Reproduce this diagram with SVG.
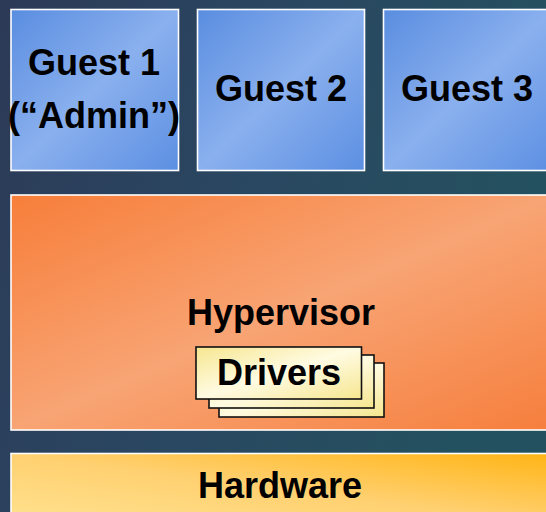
<svg xmlns="http://www.w3.org/2000/svg" width="546" height="512" viewBox="0 0 546 512">
<defs>
<linearGradient id="bg" x1="0" y1="0" x2="1" y2="0.3">
<stop offset="0" stop-color="#2c3a57"/>
<stop offset="0.5" stop-color="#2a4761"/>
<stop offset="1" stop-color="#24515f"/>
</linearGradient>
<linearGradient id="guest" x1="0" y1="0" x2="1" y2="1">
<stop offset="0" stop-color="#5a8de0"/>
<stop offset="0.5" stop-color="#8ab0ee"/>
<stop offset="1" stop-color="#5c8fe2"/>
</linearGradient>
<linearGradient id="hyp" x1="0" y1="0" x2="1" y2="1">
<stop offset="0" stop-color="#f77e3a"/>
<stop offset="0.5" stop-color="#f8a474"/>
<stop offset="1" stop-color="#f67e3c"/>
</linearGradient>
<linearGradient id="hw" x1="0" y1="1" x2="1" y2="0">
<stop offset="0" stop-color="#ffe290"/>
<stop offset="0.5" stop-color="#ffd070"/>
<stop offset="1" stop-color="#ffb414"/>
</linearGradient>
<linearGradient id="drv" x1="0" y1="0" x2="1" y2="1">
<stop offset="0" stop-color="#f6e690"/>
<stop offset="0.5" stop-color="#fffbe2"/>
<stop offset="1" stop-color="#f6e690"/>
</linearGradient>
<style>
.box{stroke:#ffffff;stroke-width:1.6}
.lbl{font-family:"Liberation Sans",Arial,sans-serif;font-weight:bold;font-size:36px;fill:#000;text-anchor:middle}
.drv{fill:url(#drv);stroke:#111;stroke-width:1.6}
</style>
</defs>
<rect x="0" y="0" width="546" height="512" fill="url(#bg)"/>
<g id="guest1">
<rect class="box" x="11" y="9.5" width="167.5" height="161" fill="url(#guest)"/>
<text class="lbl" x="94" y="75">Guest 1</text>
<text class="lbl" x="94" y="128">(“Admin”)</text>
</g>
<g id="guest2">
<rect class="box" x="197.5" y="9.5" width="167" height="161" fill="url(#guest)"/>
<text class="lbl" x="281" y="101">Guest 2</text>
</g>
<g id="guest3">
<rect class="box" x="383.5" y="9.5" width="170" height="161" fill="url(#guest)"/>
<text class="lbl" x="467" y="101">Guest 3</text>
</g>
<g id="hypervisor">
<rect class="box" x="11" y="195" width="545" height="235" fill="url(#hyp)"/>
<text class="lbl" x="281" y="325">Hypervisor</text>
</g>
<g id="drivers">
<rect class="drv" x="219" y="363" width="165" height="54"/>
<rect class="drv" x="209" y="355" width="165" height="53"/>
<rect class="drv" x="196" y="347" width="165.5" height="52"/>
<text class="lbl" x="279" y="385">Drivers</text>
</g>
<g id="hardware">
<rect class="box" x="11" y="453.5" width="545" height="70" fill="url(#hw)"/>
<text class="lbl" x="280" y="498">Hardware</text>
</g>
<g id="connectors"/>
</svg>
